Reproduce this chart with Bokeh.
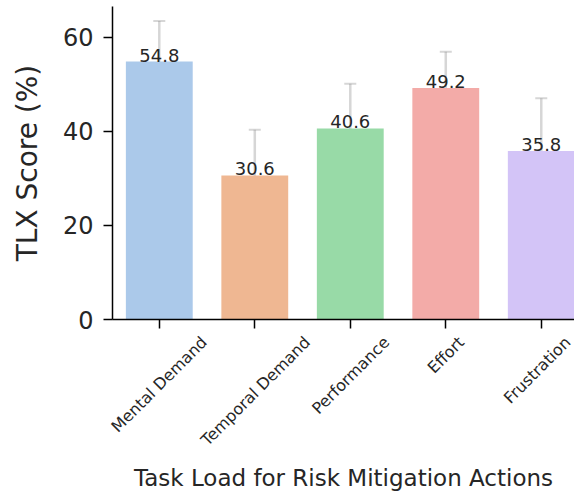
import math
from bokeh.plotting import figure
from bokeh.models import ColumnDataSource, Range1d, Whisker, TeeHead, FixedTicker, LinearAxis
from bokeh.core.properties import value
from bokeh.embed import file_html
from bokeh.resources import INLINE

categories = ["Mental Demand", "Temporal Demand", "Performance", "Effort", "Frustration"]
means = [54.8, 30.6, 40.6, 49.2, 35.8]
errors = [8.6, 9.7, 9.5, 7.7, 11.2]
colors = ["#abc9ea", "#efb792", "#98daa7", "#f3aba8", "#d3c4f7"]
y_ticks = [0, 20, 40, 60]

FONT = "DejaVu Sans"
TICK_FS = 16  # px, category label size
W, H = 574, 494
LEFT = 112
X_START, X_END = -0.49, 4.348
PX_PER_UNIT = (W - LEFT) / (X_END - X_START)

# approximate DejaVu Sans advance widths (em), used to centre the rotated
# category labels under their ticks as matplotlib's ha="center" does
_W = {"M": .863, "e": .615, "n": .634, "t": .392, "a": .613, "l": .278, " ": .318,
      "D": .770, "m": .974, "T": .611, "p": .635, "o": .612, "r": .411, "P": .603,
      "f": .352, "c": .550, "E": .632, "F": .575, "u": .634, "s": .521, "i": .278}


def text_len(s):
    return sum(_W.get(ch, .6) for ch in s) * TICK_FS


xs = list(range(len(categories)))
label_pos = [round(x + 0.354 * text_len(c) / PX_PER_UNIT, 4) for x, c in zip(xs, categories)]

src = ColumnDataSource(dict(
    x=xs, top=means, color=colors,
    upper=[m + e for m, e in zip(means, errors)],
    lower=[m - e for m, e in zip(means, errors)],
    label=[f"{m:.1f}" for m in means],
))

p = figure(width=W, height=H, output_backend="svg", toolbar_location=None,
           x_range=Range1d(X_START, X_END), y_range=Range1d(0, 66.5),
           min_border_left=LEFT, min_border_right=0, min_border_top=6, min_border_bottom=168)
p.outline_line_color = None
p.xgrid.visible = False
p.ygrid.visible = False

p.vbar(x="x", top="top", width=0.7, color="color", source=src, line_color=None)

w = Whisker(base="x", upper="upper", lower="lower", source=src,
            line_color="gray", line_alpha=0.32, line_width=2.5,
            upper_head=TeeHead(size=12, line_color="gray", line_alpha=0.32, line_width=2),
            lower_head=TeeHead(size=12, line_color="gray", line_alpha=0.32, line_width=2))
p.add_layout(w)

p.text(x="x", y="top", text="label", source=src, text_align="center",
       text_baseline="bottom", text_font=value(FONT), text_font_size="18px",
       text_color="#262626")

xaxis = p.xaxis[0]
yaxis = p.yaxis[0]
for ax in (xaxis, yaxis):
    ax.axis_line_color = "black"
    ax.axis_line_width = 1.5
    ax.major_tick_line_color = "black"
    ax.major_tick_line_width = 1.5
    ax.major_tick_out = 9
    ax.major_tick_in = 0
    ax.minor_tick_line_color = None
    ax.major_label_text_font = FONT
    ax.axis_label_text_font = FONT
    ax.axis_label_text_font_style = "normal"
    ax.major_label_text_color = "#262626"
    ax.axis_label_text_color = "#262626"

yaxis.ticker = FixedTicker(ticks=y_ticks)
yaxis.major_label_text_font_size = "24px"
yaxis.major_label_standoff = 10
yaxis.axis_label = "TLX Score (%)"
yaxis.axis_label_text_font_size = "28px"
yaxis.axis_label_standoff = 16

# tick marks at the bar centres
xaxis.ticker = FixedTicker(ticks=xs)
xaxis.major_label_overrides = {i: "" for i in xs}
xaxis.major_label_standoff = 0

# category names: rotated 45 degrees, centred under each tick
lab_axis = LinearAxis(
    ticker=FixedTicker(ticks=label_pos),
    major_label_overrides={pos: name for pos, name in zip(label_pos, categories)},
    major_label_orientation=math.pi / 4,
    major_label_standoff=11,
    major_label_text_font=FONT, major_label_text_font_size=f"{TICK_FS}px",
    major_label_text_color="#262626",
    axis_line_color=None, major_tick_line_color=None, minor_tick_line_color=None,
    major_tick_out=0, major_tick_in=0,
    axis_label="Task Load for Risk Mitigation Actions",
    axis_label_text_font=FONT, axis_label_text_font_style="normal",
    axis_label_text_font_size="23px", axis_label_text_color="#262626",
    axis_label_standoff=6,
)
p.add_layout(lab_axis, "below")

open("out.html", "w").write(file_html(p, INLINE))
